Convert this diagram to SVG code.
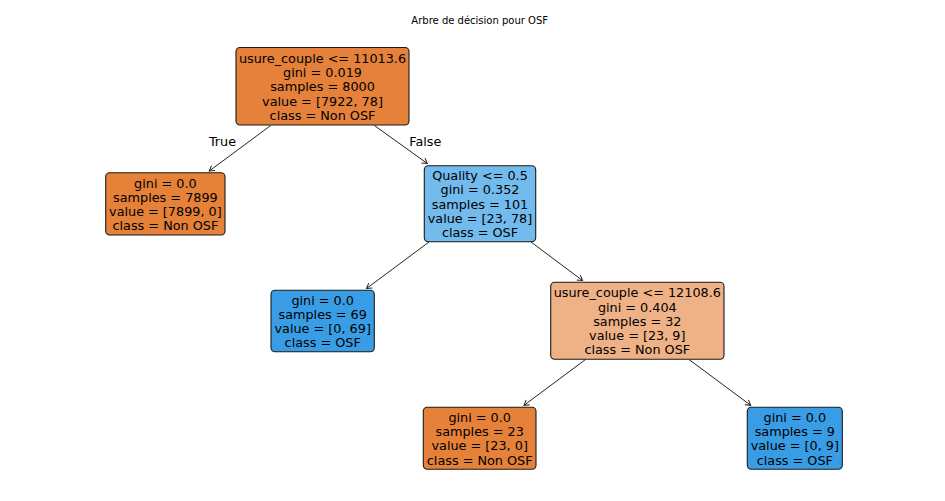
<svg xmlns="http://www.w3.org/2000/svg" width="945" height="501" viewBox="0 0 945 501">
<defs>
<style>
text { font-family: "DejaVu Sans", "Liberation Sans", sans-serif; fill: #000; }
.t { font-size: 12.8px; text-anchor: middle; }
.title { font-size: 10px; text-anchor: middle; }
.box { stroke: #1a1a1a; stroke-width: 1.1; }
.edge { stroke: #222; stroke-width: 1; fill: none; marker-end: url(#ah); }
</style>
<marker id="ah" markerUnits="userSpaceOnUse" markerWidth="12" markerHeight="12" viewBox="-6 -6 12 12" refX="0" refY="0" orient="auto">
<path d="M -5 -3 L 0 0 L -5 3" fill="none" stroke="#222" stroke-width="1"/>
</marker>
</defs>
<rect x="0" y="0" width="945" height="501" fill="#fff"/>
<text class="title" x="479.7" y="23.5">Arbre de décision pour OSF</text>

<g id="connectors">
<line class="edge" x1="270.7" y1="125.5" x2="209.3" y2="171"/>
<line class="edge" x1="374.4" y1="125.5" x2="427.3" y2="163.5"/>
<line class="edge" x1="429" y1="242" x2="366.5" y2="288.5"/>
<line class="edge" x1="531" y1="242" x2="582.5" y2="280.5"/>
<line class="edge" x1="585.5" y1="359.5" x2="524" y2="405.3"/>
<line class="edge" x1="689" y1="359.5" x2="750.7" y2="405.3"/>
<text class="t" x="222.5" y="145.6">True</text>
<text class="t" x="425.3" y="145.6">False</text>
</g>

<g id="node0">
<rect class="box" x="236" y="47.5" width="173" height="77.5" rx="4" fill="#e5813a"/>
<text class="t" x="322.5" y="62.75">usure_couple &lt;= 11013.6</text>
<text class="t" x="322.5" y="77">gini = 0.019</text>
<text class="t" x="322.5" y="91.25">samples = 8000</text>
<text class="t" x="322.5" y="105.5">value = [7922, 78]</text>
<text class="t" x="322.5" y="119.75">class = Non OSF</text>
</g>

<g id="node1">
<rect class="box" x="105.7" y="172.7" width="119.3" height="62.3" rx="4" fill="#e58139"/>
<text class="t" x="165.4" y="187.5">gini = 0.0</text>
<text class="t" x="165.4" y="201.8">samples = 7899</text>
<text class="t" x="165.4" y="216">value = [7899, 0]</text>
<text class="t" x="165.4" y="230.3">class = Non OSF</text>
</g>

<g id="node2">
<rect class="box" x="424.3" y="165.7" width="111.4" height="76" rx="4" fill="#73baed"/>
<text class="t" x="480" y="180.2">Quality &lt;= 0.5</text>
<text class="t" x="480" y="194.45">gini = 0.352</text>
<text class="t" x="480" y="208.7">samples = 101</text>
<text class="t" x="480" y="222.95">value = [23, 78]</text>
<text class="t" x="480" y="237.2">class = OSF</text>
</g>

<g id="node3">
<rect class="box" x="271" y="290.3" width="103.3" height="61.4" rx="4" fill="#399de5"/>
<text class="t" x="322.7" y="304.6">gini = 0.0</text>
<text class="t" x="322.7" y="318.9">samples = 69</text>
<text class="t" x="322.7" y="333.1">value = [0, 69]</text>
<text class="t" x="322.7" y="347.4">class = OSF</text>
</g>

<g id="node4">
<rect class="box" x="550.7" y="282.3" width="173.3" height="77" rx="4" fill="#efb286"/>
<text class="t" x="637.3" y="297.3">usure_couple &lt;= 12108.6</text>
<text class="t" x="637.3" y="311.55">gini = 0.404</text>
<text class="t" x="637.3" y="325.8">samples = 32</text>
<text class="t" x="637.3" y="340.05">value = [23, 9]</text>
<text class="t" x="637.3" y="354.3">class = Non OSF</text>
</g>

<g id="node5">
<rect class="box" x="423.3" y="407.3" width="112.7" height="62" rx="4" fill="#e58139"/>
<text class="t" x="479.7" y="421.9">gini = 0.0</text>
<text class="t" x="479.7" y="436.2">samples = 23</text>
<text class="t" x="479.7" y="450.4">value = [23, 0]</text>
<text class="t" x="479.7" y="464.7">class = Non OSF</text>
</g>

<g id="node6">
<rect class="box" x="747.3" y="407.3" width="95" height="62" rx="4" fill="#399de5"/>
<text class="t" x="794.8" y="421.9">gini = 0.0</text>
<text class="t" x="794.8" y="436.2">samples = 9</text>
<text class="t" x="794.8" y="450.4">value = [0, 9]</text>
<text class="t" x="794.8" y="464.7">class = OSF</text>
</g>
</svg>
